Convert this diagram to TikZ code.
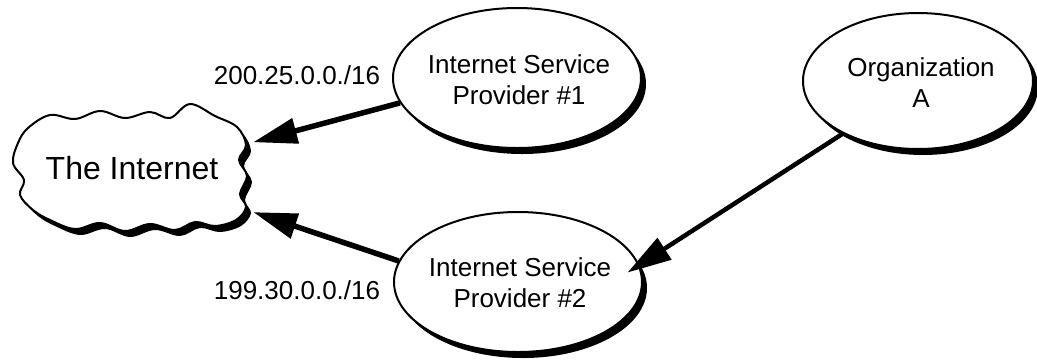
\documentclass[tikz,border=0pt]{standalone}
\usepackage{fontspec}
\setmainfont{Liberation Sans}
\usetikzlibrary{shapes.geometric,shadows,arrows.meta}
\tikzset{
  bubble/.style={ellipse, draw, line width=2pt, fill=white, inner sep=0pt,
    drop shadow={shadow xshift=5pt, shadow yshift=-6pt, fill=black, opacity=1}},
  txt/.style={align=center, font=\fontsize{26}{31}\selectfont, inner sep=0pt},
  link/.style={line width=5.5pt, -{Triangle[length=44pt,width=25pt]}},
  cloudshape/.pic={
    \path[pic actions] plot[smooth cycle, tension=0.6] coordinates {
      (28,128) (50,115) (75,119) (100,111) (125,118) (150,112) (170,118)
      (190,104) (215,116) (237,127) (246,145) (239,160) (247,176) (240,194)
      (246,207) (236,220) (215,226) (195,222) (175,230) (150,224) (125,231)
      (100,223) (75,229) (50,220) (33,210) (20,195) (24,180) (13,163)
      (18,143)};
  }
}
\begin{document}
\begin{tikzpicture}[x=1pt,y=-1pt]
\useasboundingbox (0,0) rectangle (1037,360);
% cloud
\pic[fill=black] at (5,6) {cloudshape};
\pic[draw, fill=white, line width=2pt] at (0,0) {cloudshape};
\node[draw=none, minimum width=242pt, minimum height=124pt, inner sep=0pt,
      font=\fontsize{32}{38}\selectfont] (net) at (132,168) {The Internet};
% ellipses
\node[bubble, minimum width=248pt, minimum height=140pt] (isp1) at (517,78) {};
\node[bubble, minimum width=248pt, minimum height=140pt] (isp2) at (518,282) {};
\node[bubble, minimum width=230pt, minimum height=136pt] (orga) at (918,81) {};
\node[txt] (isp1t) at (519,80) {Internet Service\\Provider \#1};
\node[txt] (isp2t) at (520,283) {Internet Service\\Provider \#2};
\node[txt] (orgat) at (921,83) {Organization\\A};
% labels
\node[txt] (lab1) at (297,75) {200.25.0.0./16};
\node[txt] (lab2) at (297,290) {199.30.0.0./16};
% connectors
\draw[link] (isp1.192) -- (net.12.6);
\draw[link] (isp2.170) -- (net.-20.4);
\draw[link, line width=4.5pt, shorten >=-14pt] (orga.215) -- (isp2.8);
\end{tikzpicture}
\end{document}
